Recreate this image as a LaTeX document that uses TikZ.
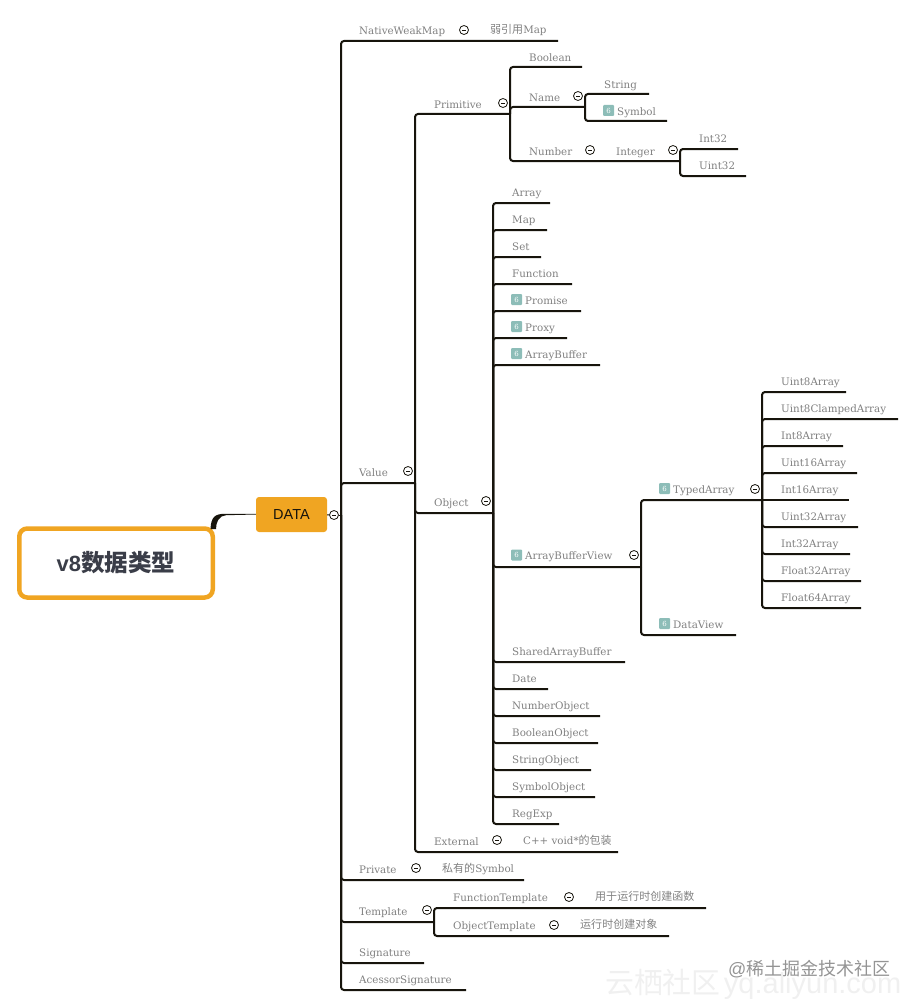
\documentclass[tikz,border=0pt]{standalone}
\usepackage{fontspec}
\setmainfont{DejaVu Serif}
\newfontfamily\cjk[Scale=1.07]{Noto Sans CJK SC}
\newfontfamily\headsans{Liberation Sans}
\definecolor{rootorange}{HTML}{F0A522}
\definecolor{labelgray}{HTML}{808080}
\definecolor{inkblack}{HTML}{17140C}
\definecolor{badgeteal}{HTML}{8DBDB8}
\definecolor{headink}{HTML}{3A3D48}
\tikzset{
  lab/.style={anchor=west,inner sep=0pt,text height=7pt,text depth=2pt,text=labelgray,yshift=-1.8pt,font=\fontsize{10.3}{12}\selectfont},
  note/.style={lab},
  branch/.style={draw=inkblack,line width=2pt,rounded corners=3pt},
  fold/.style={circle,draw=inkblack,fill=white,inner sep=0pt,minimum size=9pt,line width=.8pt,path picture={\draw[line width=.6pt] ([xshift=2.3pt]path picture bounding box.west) -- ([xshift=-2.3pt]path picture bounding box.east);}},
  badge/.style={fill=badgeteal,rounded corners=1pt,minimum size=11pt,inner sep=0pt,text=white,font=\fontsize{7}{7}\selectfont}
}
\begin{document}
\begin{tikzpicture}[x=1pt,y=-1pt]
  \useasboundingbox (0,0) rectangle (915,1006);
  \node[draw=rootorange,line width=4.5pt,rounded corners=8pt,fill=white,minimum width=193.5pt,minimum height=69pt,inner sep=0pt] (root) at (116,563) {\textcolor{headink}{{\headsans\fontsize{22}{24}\selectfont\bfseries v8}{\cjk\fontsize{22}{24}\selectfont\bfseries 数据类型}}};
  \node[fill=rootorange,rounded corners=3pt,minimum width=71pt,minimum height=35pt,inner sep=0pt,text=inkblack] (data) at (291.5,514.5) {\headsans\fontsize{14.5}{16}\selectfont DATA};
  \fill[inkblack] (data.west) ++(0,-.7) -- (225,513.8) .. controls (215,513.8) and (211,517) .. (210.5,529) -- (216,529) .. controls (216,522) and (219,515.6) .. (226,515.2) -- (data.west) -- cycle;
  \coordinate (trunk) at (341,515);
  \node[fold] (datafold) at (334,515) {};
  \draw[inkblack,line width=1pt] (data) -- (datafold);
  \draw[inkblack,line width=1pt] (datafold) -- (trunk);

  \node[lab] (nativeweakmap) at (359,30) {NativeWeakMap};
  \node[fold] (nativeweakmapfold) at (464,30) {};
  \node[note] (nativeweakmapnote) at (490,29) {{\cjk 弱引用}Map};
  \coordinate (nativeweakmapend) at (558,41);
  \draw[branch] (trunk) |- (nativeweakmapend);

  \node[lab] (value) at (359,472) {Value};
  \coordinate (valueend) at (415,483);
  \draw[branch] (trunk) |- (valueend);
  \node[fold] (valuefold) at (408,471) {};

  \node[lab] (private) at (359,869) {Private};
  \node[fold] (privatefold) at (416,868) {};
  \node[note] (privatenote) at (442,868) {{\cjk 私有的}Symbol};
  \coordinate (privateend) at (524,880);
  \draw[branch] (trunk) |- (privateend);

  \node[lab] (template) at (359,911) {Template};
  \coordinate (templateend) at (434,922);
  \draw[branch] (trunk) |- (templateend);

  \node[lab] (signature) at (359,952) {Signature};
  \coordinate (signatureend) at (424,963);
  \draw[branch] (trunk) |- (signatureend);

  \node[lab] (acessorsignature) at (359,979) {AcessorSignature};
  \coordinate (acessorsignatureend) at (466,990);
  \draw[branch] (trunk) |- (acessorsignatureend);

  \node[lab] (functiontemplate) at (453,897) {FunctionTemplate};
  \node[fold] (functiontemplatefold) at (569,897) {};
  \node[note] (functiontemplatenote) at (595,896) {\cjk 用于运行时创建函数};
  \coordinate (functiontemplateend) at (706,908);
  \draw[branch] (templateend) |- (functiontemplateend);

  \node[lab] (objecttemplate) at (453,925) {ObjectTemplate};
  \node[fold] (objecttemplatefold) at (554,925) {};
  \node[note] (objecttemplatenote) at (580,924) {\cjk 运行时创建对象};
  \coordinate (objecttemplateend) at (669,936);
  \draw[branch] (templateend) |- (objecttemplateend);
  \node[fold] (templatefold) at (427,910) {};

  \node[lab] (primitive) at (434,104) {Primitive};
  \coordinate (primitiveend) at (510,114);
  \draw[branch] (valueend) |- (primitiveend);

  \node[lab] (object) at (434,502) {Object};
  \coordinate (objectend) at (493,513);
  \draw[branch] (valueend) |- (objectend);
  \node[fold] (objectfold) at (486,501) {};

  \node[lab] (external) at (434,841) {External};
  \node[fold] (externalfold) at (497,840) {};
  \node[note] (externalnote) at (523,840) {C++ void*{\cjk 的包装}};
  \coordinate (externalend) at (618,852);
  \draw[branch] (valueend) |- (externalend);

  \node[lab] (boolean) at (529,57) {Boolean};
  \coordinate (booleanend) at (582,67);
  \draw[branch] (primitiveend) |- (booleanend);

  \node[lab] (name) at (529,97) {Name};
  \coordinate (nameend) at (585,107);
  \draw[branch] (primitiveend) |- (nameend);

  \node[lab] (number) at (529,151) {Number};
  \node[fold] (numberfold) at (590,150) {};
  \node[lab] (integer) at (616,151) {Integer};
  \coordinate (integerend) at (680,161);
  \draw[branch] (primitiveend) |- (integerend);
  \node[fold] (primitivefold) at (503,103) {};

  \node[lab] (string) at (604,84) {String};
  \coordinate (stringend) at (649,94);
  \draw[branch] (nameend) |- (stringend);

  \node[badge] (symbolbadge) at (608.5,110.5) {6};
  \node[lab] (symbol) at (617,111) {Symbol};
  \coordinate (symbolend) at (667,121);
  \draw[branch] (nameend) |- (symbolend);
  \node[fold] (namefold) at (578,96) {};

  \node[lab] (intthirtytwo) at (699,138) {Int32};
  \coordinate (intthirtytwoend) at (738,149);
  \draw[branch] (integerend) |- (intthirtytwoend);

  \node[lab] (uintthirtytwo) at (699,165) {Uint32};
  \coordinate (uintthirtytwoend) at (746,176);
  \draw[branch] (integerend) |- (uintthirtytwoend);
  \node[fold] (integerfold) at (673,150) {};

  \node[lab] (array) at (512,192) {Array};
  \coordinate (arrayend) at (550,203);
  \draw[branch] (objectend) |- (arrayend);

  \node[lab] (map) at (512,219) {Map};
  \coordinate (mapend) at (547,230);
  \draw[branch] (objectend) |- (mapend);

  \node[lab] (set) at (512,246) {Set};
  \coordinate (setend) at (541,257);
  \draw[branch] (objectend) |- (setend);

  \node[lab] (function) at (512,273) {Function};
  \coordinate (functionend) at (572,284);
  \draw[branch] (objectend) |- (functionend);

  \node[badge] (promisebadge) at (516.5,299.5) {6};
  \node[lab] (promise) at (525,300) {Promise};
  \coordinate (promiseend) at (581,311);
  \draw[branch] (objectend) |- (promiseend);

  \node[badge] (proxybadge) at (516.5,326.5) {6};
  \node[lab] (proxy) at (525,327) {Proxy};
  \coordinate (proxyend) at (567,338);
  \draw[branch] (objectend) |- (proxyend);

  \node[badge] (arraybufferbadge) at (516.5,353.5) {6};
  \node[lab] (arraybuffer) at (525,354) {ArrayBuffer};
  \coordinate (arraybufferend) at (600,365);
  \draw[branch] (objectend) |- (arraybufferend);

  \node[badge] (viewbadge) at (516.5,555) {6};
  \node[lab] (view) at (525,555.5) {ArrayBufferView};
  \node[fold] (viewfold) at (634,555) {};
  \coordinate (viewend) at (641,567);
  \draw[branch] (objectend) |- (viewend);

  \node[lab] (shared) at (512,651) {SharedArrayBuffer};
  \coordinate (sharedend) at (625,662);
  \draw[branch] (objectend) |- (sharedend);

  \node[lab] (date) at (512,678) {Date};
  \coordinate (dateend) at (548,689);
  \draw[branch] (objectend) |- (dateend);

  \node[lab] (numberobject) at (512,705) {NumberObject};
  \coordinate (numberobjectend) at (600,716);
  \draw[branch] (objectend) |- (numberobjectend);

  \node[lab] (booleanobject) at (512,732) {BooleanObject};
  \coordinate (booleanobjectend) at (598,743);
  \draw[branch] (objectend) |- (booleanobjectend);

  \node[lab] (stringobject) at (512,759) {StringObject};
  \coordinate (stringobjectend) at (591,770);
  \draw[branch] (objectend) |- (stringobjectend);

  \node[lab] (symbolobject) at (512,786) {SymbolObject};
  \coordinate (symbolobjectend) at (595,797);
  \draw[branch] (objectend) |- (symbolobjectend);

  \node[lab] (regexp) at (512,813) {RegExp};
  \coordinate (regexpend) at (559,824);
  \draw[branch] (objectend) |- (regexpend);

  \node[badge] (typedbadge) at (664.5,488.5) {6};
  \node[lab] (typed) at (673,489) {TypedArray};
  \coordinate (typedend) at (762,500);
  \draw[branch] (viewend) |- (typedend);

  \node[badge] (dataviewbadge) at (664.5,623.5) {6};
  \node[lab] (dataview) at (673,624) {DataView};
  \coordinate (dataviewend) at (736,635);
  \draw[branch] (viewend) |- (dataviewend);

  \node[lab] (ueight) at (781,381) {Uint8Array};
  \coordinate (ueightend) at (846,392);
  \draw[branch] (typedend) |- (ueightend);

  \node[lab] (uclamped) at (781,408) {Uint8ClampedArray};
  \coordinate (uclampedend) at (898,419);
  \draw[branch] (typedend) |- (uclampedend);

  \node[lab] (ieight) at (781,435) {Int8Array};
  \coordinate (ieightend) at (843,446);
  \draw[branch] (typedend) |- (ieightend);

  \node[lab] (usixteen) at (781,462) {Uint16Array};
  \coordinate (usixteenend) at (857,473);
  \draw[branch] (typedend) |- (usixteenend);

  \node[lab] (isixteen) at (781,489) {Int16Array};
  \coordinate (isixteenend) at (849,500);
  \draw[branch] (typedend) -- (isixteenend);

  \node[lab] (uthirtytwo) at (781,516) {Uint32Array};
  \coordinate (uthirtytwoend) at (858,527);
  \draw[branch] (typedend) |- (uthirtytwoend);

  \node[lab] (ithirtytwo) at (781,543) {Int32Array};
  \coordinate (ithirtytwoend) at (850,554);
  \draw[branch] (typedend) |- (ithirtytwoend);

  \node[lab] (fthirtytwo) at (781,570) {Float32Array};
  \coordinate (fthirtytwoend) at (861,581);
  \draw[branch] (typedend) |- (fthirtytwoend);

  \node[lab] (fsixtyfour) at (781,597) {Float64Array};
  \coordinate (fsixtyfourend) at (861,608);
  \draw[branch] (typedend) |- (fsixtyfourend);
  \node[fold] (typedfold) at (755,489) {};

  \node[anchor=west,inner sep=0pt,text=black!6] (cloudmark) at (605,984) {{\cjk\fontsize{27}{30}\selectfont 云栖社区} {\headsans\fontsize{29}{30}\selectfont yq.aliyun.com}};
  \node[anchor=west,inner sep=0pt,text=black!42] (juejinmark) at (728,969) {{\headsans\fontsize{18}{20}\selectfont @}{\cjk\fontsize{16.8}{20}\selectfont 稀土掘金技术社区}};
\end{tikzpicture}
\end{document}
